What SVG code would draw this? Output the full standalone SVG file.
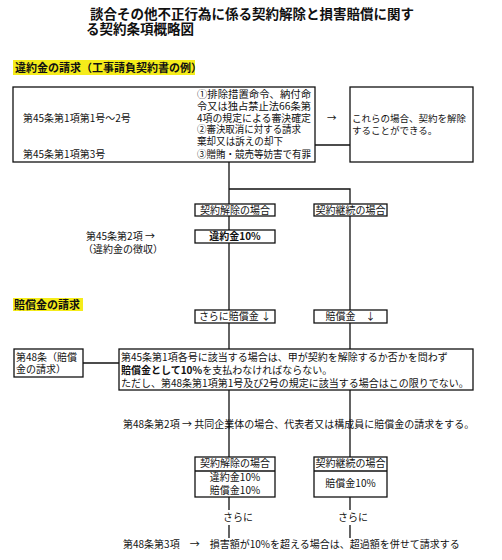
<svg xmlns="http://www.w3.org/2000/svg" width="502" height="560" viewBox="0 0 502 560">
<style>
text{font-family:"Noto Sans CJK JP","Noto Sans",sans-serif;font-size:10px;fill:#111}
.t{font-size:13.5px;font-weight:bold}
.h{font-size:11px;font-weight:bold}
.b{font-weight:bold}
.m{text-anchor:middle}
.s{font-size:9.5px}
.box{fill:#fff;stroke:#111;stroke-width:1.3}
.ln{stroke:#111;stroke-width:1.3;fill:none}
.hl{fill:#f5ec1a}
</style>
<rect width="502" height="560" fill="#fff"/>
<g id="title">
<text class="t" x="90" y="19">談合その他不正行為に係る契約解除と損害賠償に関す</text>
<text class="t" x="86" y="34">る契約条項概略図</text>
</g>
<g id="header1">
<rect class="hl" x="13" y="60" width="182" height="15"/>
<text class="h" x="15" y="72">違約金の請求（工事請負契約書の例）</text>
</g>
<g id="connectors">
<path class="ln" d="M315 145H350"/>
<path class="ln" d="M229 162V204M229 216V230M229 243V310M229 323V349M229 390V457M229 497V510M229 525V538"/>
<path class="ln" d="M229 189H350V204M350 216V310M350 323V349M350 390V457M350 497V510M350 525V538"/>
<path class="ln" d="M83 363H119"/>
</g>
<g id="main-box">
<rect class="box" x="13" y="87" width="302" height="75"/>
<text x="23" y="122">第45条第1項第1号～2号</text>
<text x="23" y="158">第45条第1項第3号</text>
<text x="197" y="98" textLength="114" lengthAdjust="spacingAndGlyphs">①排除措置命令、納付命</text>
<text x="197" y="110" textLength="114" lengthAdjust="spacingAndGlyphs">令又は独占禁止法66条第</text>
<text x="197" y="122" textLength="114" lengthAdjust="spacingAndGlyphs">4項の規定による審決確定</text>
<text x="197" y="133" textLength="104" lengthAdjust="spacingAndGlyphs">②審決取消に対する請求</text>
<text x="197" y="145" textLength="86" lengthAdjust="spacingAndGlyphs">棄却又は訴えの却下</text>
<text x="197" y="158" textLength="114" lengthAdjust="spacingAndGlyphs">③贈賄・競売等妨害で有罪</text>
</g>
<g id="arrow1"><text x="327" y="121" class="s">→</text></g>
<g id="cancel-box">
<rect class="box" x="350" y="87" width="123" height="75"/>
<text class="s" x="352" y="122">これらの場合、契約を解除</text>
<text class="s" x="352" y="134">することができる。</text>
</g>
<g id="kaijo1">
<rect class="box" x="195" y="204" width="80" height="12"/>
<text class="m" x="235" y="214">契約解除の場合</text>
</g>
<g id="keizoku1">
<rect class="box" x="314" y="204" width="73" height="12"/>
<text class="m" x="350.5" y="214">契約継続の場合</text>
</g>
<g id="iyakukin">
<rect class="box" x="195" y="230" width="80" height="13"/>
<text class="m b" x="235" y="240">違約金10%</text>
</g>
<g id="art45-2">
<text x="86" y="240">第45条第2項 →</text>
<text x="83" y="253">（違約金の徴収）</text>
</g>
<g id="header2">
<rect class="hl" x="13" y="298" width="70" height="13"/>
<text class="h" x="14" y="309">賠償金の請求</text>
</g>
<g id="sarani-baisho">
<rect class="box" x="195" y="310" width="80" height="13"/>
<text class="m" x="235" y="320">さらに賠償金 ↓</text>
</g>
<g id="baisho">
<rect class="box" x="314" y="310" width="73" height="13"/>
<text class="m" x="350.5" y="320">賠償金　↓</text>
</g>
<g id="art48">
<rect class="box" x="14" y="349" width="69" height="28"/>
<text x="16" y="361">第48条（賠償</text>
<text x="16" y="373">金の請求）</text>
</g>
<g id="big-box">
<rect class="box" x="119" y="349" width="354" height="41"/>
<text x="121" y="361">第45条第1項各号に該当する場合は、甲が契約を解除するか否かを問わず</text>
<text x="121" y="374"><tspan class="b">賠償金として10%</tspan>を支払わなければならない。</text>
<text x="121" y="387">ただし、第48条第1項第1号及び2号の規定に該当する場合はこの限りでない。</text>
</g>
<g id="art48-2">
<text x="123" y="428">第48条第2項 → 共同企業体の場合、代表者又は構成員に賠償金の請求をする。</text>
</g>
<g id="kaijo2">
<rect class="box" x="195" y="457" width="80" height="40"/>
<path class="ln" d="M195 471H275"/>
<text class="m" x="235" y="467">契約解除の場合</text>
<text class="m" x="235" y="481">違約金10%</text>
<text class="m" x="235" y="494">賠償金10%</text>
</g>
<g id="keizoku2">
<rect class="box" x="314" y="457" width="73" height="40"/>
<path class="ln" d="M314 471H387"/>
<text class="m" x="350.5" y="467">契約継続の場合</text>
<text class="m" x="350.5" y="487">賠償金10%</text>
</g>
<g id="sarani">
<text x="223" y="521">さらに</text>
<text x="338" y="521">さらに</text>
</g>
<g id="art48-3">
<text x="123" y="548">第48条第3項　→　損害額が10%を超える場合は、超過額を併せて請求する</text>
</g>
</svg>
